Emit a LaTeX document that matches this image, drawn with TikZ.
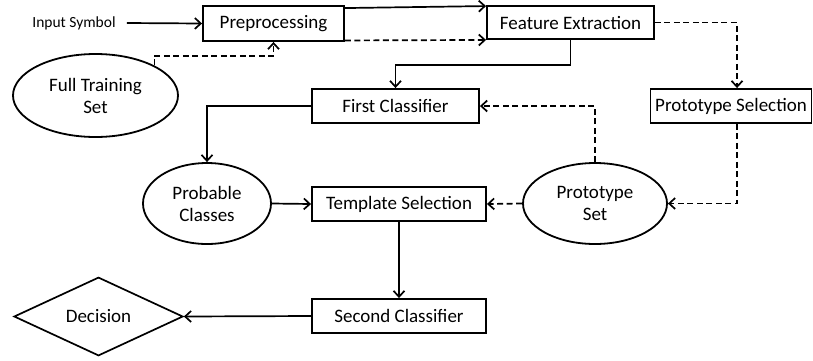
\documentclass[tikz,border=0pt]{standalone}
\usepackage{fontspec}
\setmainfont{Carlito}
\usetikzlibrary{arrows.meta,shapes.geometric}
\begin{document}
\begin{tikzpicture}[x=1pt,y=-1pt,
  every node/.style={font=\fontsize{19}{22}\selectfont, inner sep=0pt, align=center},
  box/.style={draw, line width=1.9pt, rectangle},
  oval/.style={draw, line width=1.8pt, ellipse},
  link/.style={line width=1.7pt, -{Straight Barb[length=6pt,width=11pt,line width=1.7pt]}},
  dlink/.style={link, dash pattern=on 6pt off 3.5pt}
]
\useasboundingbox (0,0) rectangle (813,360);

% process boxes
\node[box, minimum width=141pt, minimum height=35pt] (pre) at (273.5,23.5) {Preprocessing};
\node[box, minimum width=167pt, minimum height=33pt] (fe) at (570.5,22.5) {Feature Extraction};
\node[box, minimum width=161pt, minimum height=34pt] (ps) at (731,106) {Prototype Selection};
\node[box, minimum width=167pt, minimum height=34pt] (fc) at (395.5,106) {First Classifier};
\node[box, minimum width=174pt, minimum height=34pt] (ts) at (399,204) {Template Selection};
\node[box, minimum width=174pt, minimum height=34pt] (sc) at (399,316) {Second Classifier};

% data sets
\node[oval, minimum width=165pt, minimum height=83pt] (fts) at (95.5,95.5) {Full Training\\Set};
\node[oval, minimum width=128pt, minimum height=81pt] (pc) at (207,203.5) {Probable\\Classes};
\node[oval, minimum width=144pt, minimum height=81pt] (pset) at (595,203.5) {Prototype\\Set};

% outcome
\node[draw, line width=1.7pt, diamond, minimum width=169pt, minimum height=77pt] (dec) at (98.5,316.5) {Decision};

% input label
\node[font=\fontsize{15.5}{18}\selectfont] (in) at (74,23) {Input Symbol};

% solid flow
\draw[link] ([xshift=11pt]in.east) -- (pre.west);
\draw[link] ([yshift=-3pt]pre.north east) -- ([yshift=-1pt]fe.north west);
\draw[link] (fe.south) -- ++(0,25) -| (fc.north);
\draw[link] (fc.west) -| (pc.north);
\draw[link] (pc.east) -- (ts.west);
\draw[link] (ts.south) -- (sc.north);
\draw[link] (sc.west) -- (dec.east);

% dashed flow
\draw[dlink] ([yshift=1.5pt]pre.south east) -- (fe.south west);
\draw[dlink] (fts.27) |- ([yshift=-14pt]pre.south) -- (pre.south);
\draw[dlink] (fe.east) -| ([xshift=6pt]ps.north);
\draw[dlink] ([xshift=6pt]ps.south) |- (pset.east);
\draw[dlink] (pset.north) |- (fc.east);
\draw[dlink] (pset.west) -- (ts.east);
\end{tikzpicture}
\end{document}
